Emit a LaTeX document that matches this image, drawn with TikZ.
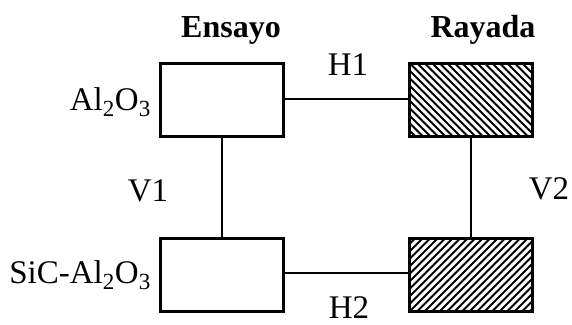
\documentclass[tikz,border=0pt]{standalone}
\usepackage{fontspec}
\setmainfont{Liberation Serif}
\usetikzlibrary{calc}
\begin{document}
\begin{tikzpicture}[x=1pt,y=-1pt,
  box/.style={draw,line width=3pt,minimum width=123pt,minimum height=73pt,inner sep=0pt,fill=white},
  hatchdown/.style={path picture={\foreach \i in {-20,...,20}
      \draw[line width=2pt] ($(path picture bounding box.north west)+(\i*7.5pt,0)$) -- ++(120pt,-120pt);}},
  hatchup/.style={path picture={\foreach \i in {-20,...,20}
      \draw[line width=2pt] ($(path picture bounding box.south west)+(\i*7.5pt,0)$) -- ++(120pt,120pt);}},
  conn/.style={line width=1.5pt},
  lbl/.style={font=\fontsize{33}{38}\selectfont,inner sep=0pt},
  head/.style={font=\fontsize{32}{38}\selectfont\bfseries,inner sep=0pt}]
\useasboundingbox (0,0) rectangle (572,324);
\node[box] (a1) at (222,99.5) {};
\node[box] (a2) at (222,275) {};
\node[box,hatchdown] (r1) at (471,99.5) {};
\node[box,hatchup] (r2) at (471,275) {};
\draw[conn] (a1.south) -- (a2.north);
\draw[conn] (r1.south) -- (r2.north);
\draw[conn] (a1.east |- 0,99) -- (r1.west |- 0,99);
\draw[conn] (a2.east |- 0,273) -- (r2.west |- 0,273);
\node[head,anchor=base] (e) at (231,37) {Ensayo};
\node[head,anchor=base] (r) at (483,37) {Rayada};
\node[lbl,anchor=base] (h1) at (348,75) {H1};
\node[lbl,anchor=base] (h2) at (349,318) {H2};
\node[lbl,anchor=base] (v1) at (148,201) {V1};
\node[lbl,anchor=base] (v2) at (549,199) {V2};
\node[lbl,anchor=base east] (l1) at (151,110) {Al\textsubscript{2}O\textsubscript{3}};
\node[lbl,anchor=base east] (l2) at (151,283) {SiC-Al\textsubscript{2}O\textsubscript{3}};
\end{tikzpicture}
\end{document}
